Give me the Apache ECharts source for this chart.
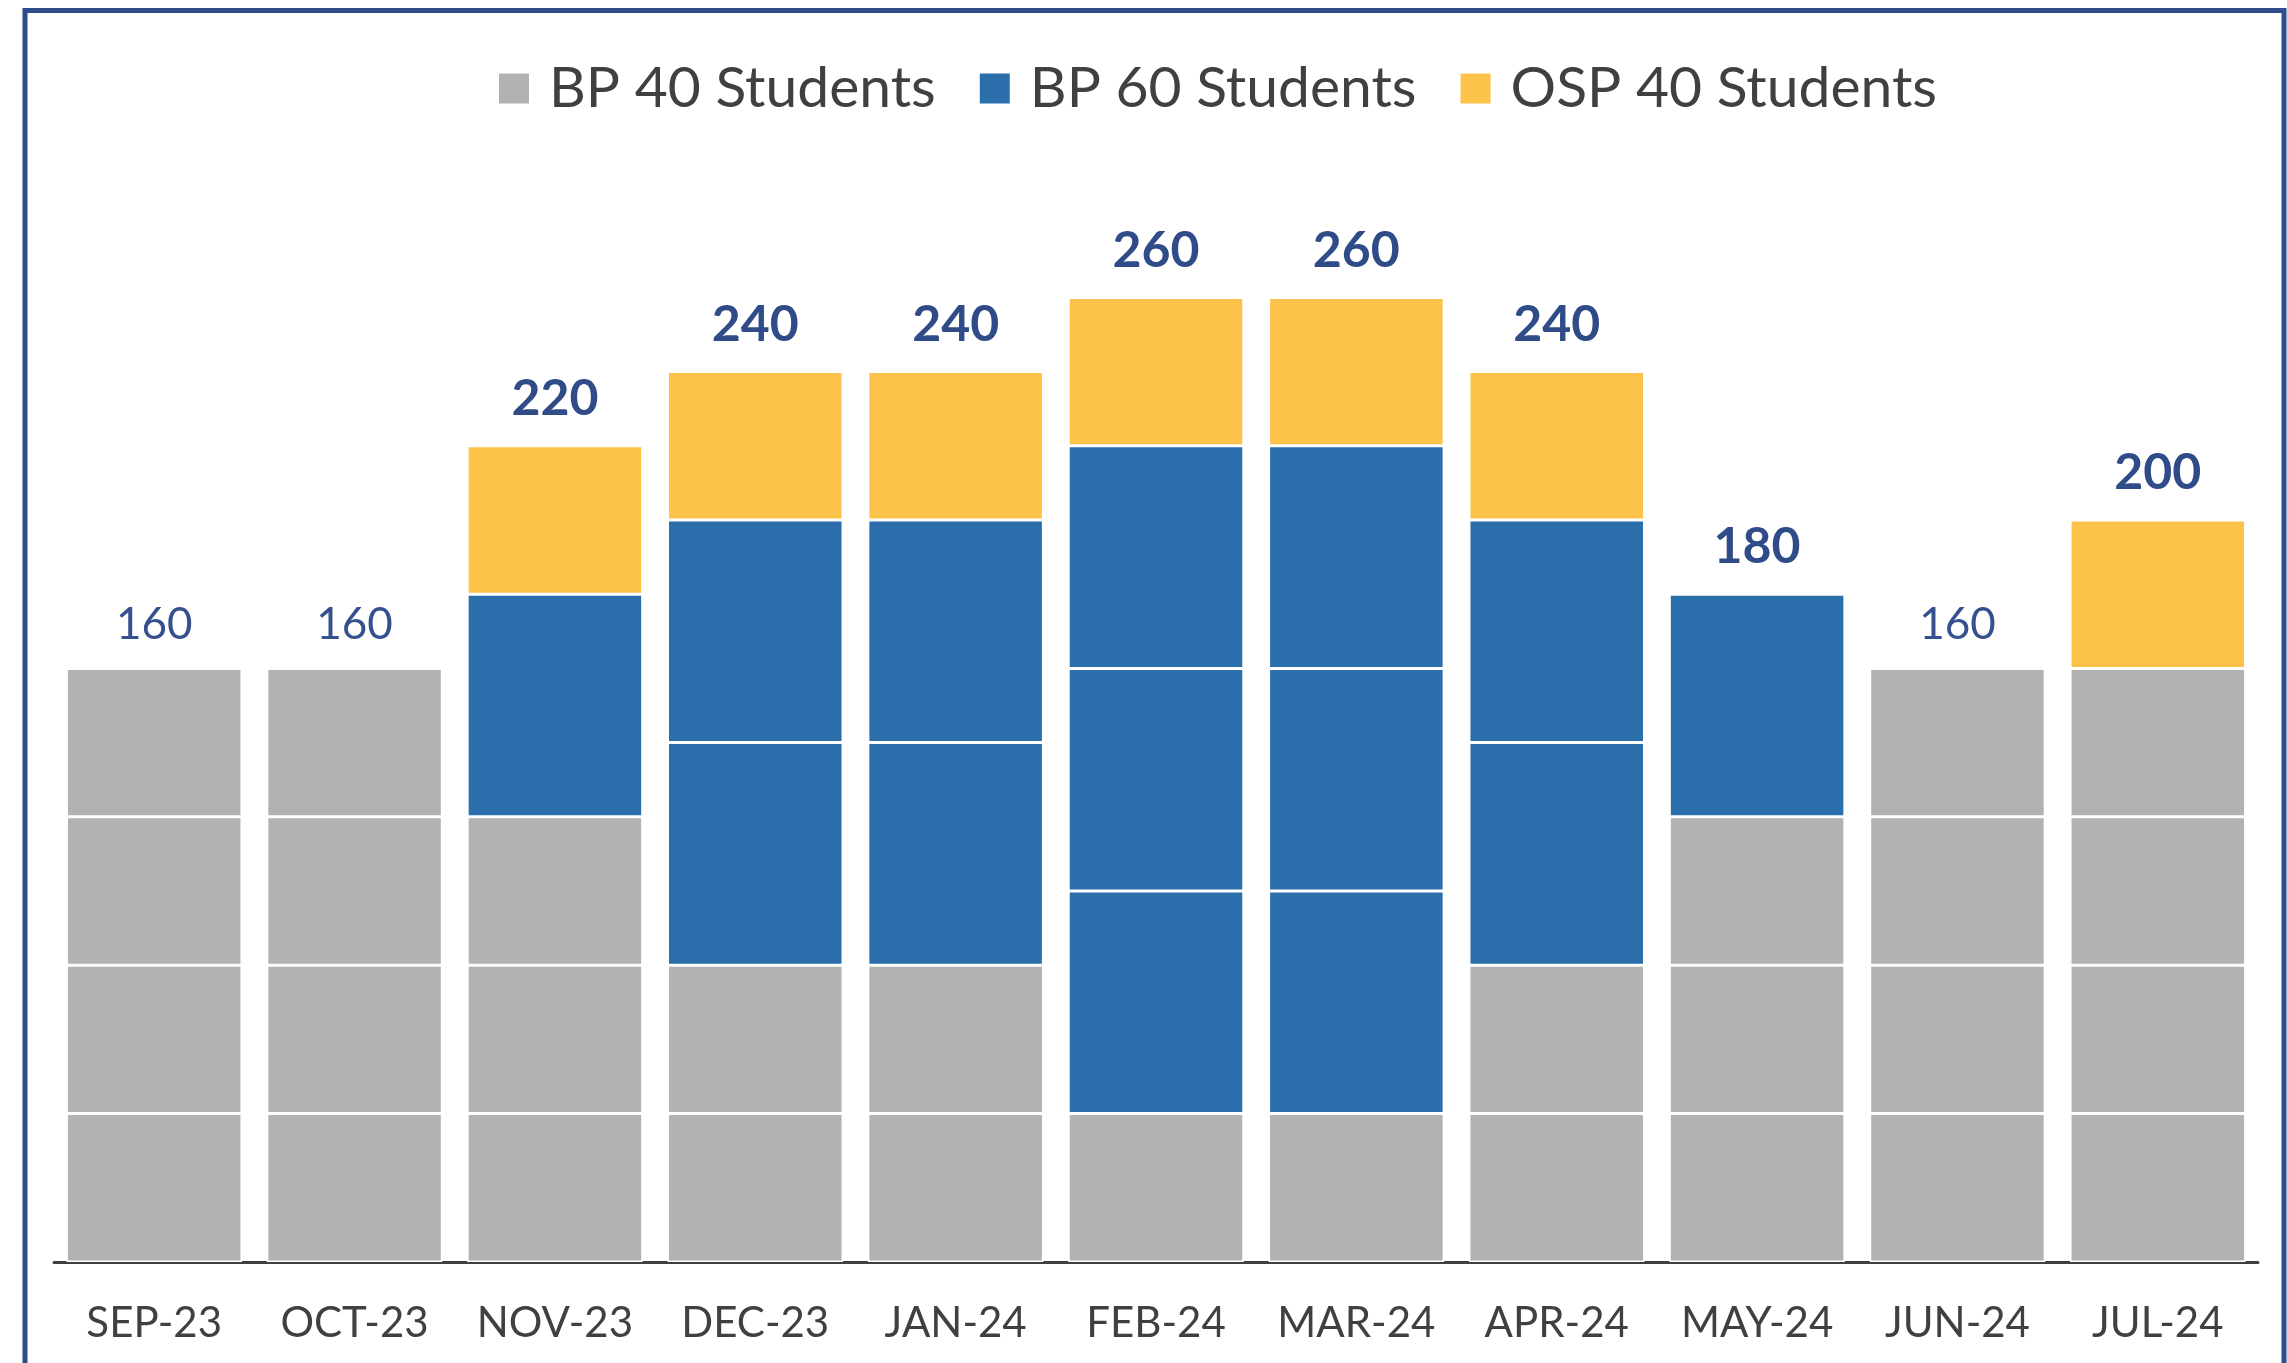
<!DOCTYPE html>
<html>
<head>
<meta charset="utf-8">
<title>Students per month</title>
<script src="https://cdn.jsdelivr.net/npm/echarts@6/dist/echarts.min.js"></script>
<style>
  html, body { margin: 0; padding: 0; background: #fff; }
  #chart { width: 2287px; height: 1363px; }
</style>
</head>
<body>
<div id="chart"></div>
<script>
  // months on the x axis
  const months = ['SEP-23', 'OCT-23', 'NOV-23', 'DEC-23', 'JAN-24', 'FEB-24', 'MAR-24', 'APR-24', 'MAY-24', 'JUN-24', 'JUL-24']
  // students per programme, each month
  const bp40 = [160, 160, 120, 80, 80, 40, 40, 80, 120, 160, 160]
  const bp60 = [0, 0, 60, 120, 120, 180, 180, 120, 60, 0, 0]
  const osp40 = [0, 0, 40, 40, 40, 40, 40, 40, 0, 0, 40]
  // size of one class block of each programme
  const bp40Block = 40
  const bp60Block = 60
  const osp40Block = 40

  const names = ['BP 40 Students', 'BP 60 Students', 'OSP 40 Students']
  const colors = ['#B2B2B2', '#2A6FAB', '#FCC24A']
  const navy = '#2F4B88'
  const font = 'Lato'

  const totals = months.map((m, i) => bp40[i] + bp60[i] + osp40[i])

  // one stacked series per class block so every block gets its own white edge
  const blockSeries = (name, color, values, block) => {
    const maxBlocks = Math.max(...values.map(v => Math.round(v / block)))
    const out = []
    for (let k = 0; k < maxBlocks; k++) {
      out.push({
        name: name,
        type: 'bar',
        stack: 'all',
        barCategoryGap: '12.4%',
        itemStyle: { color: color, borderColor: '#fff', borderWidth: 1.5 },
        emphasis: { disabled: true },
        data: values.map(v => (v >= (k + 1) * block ? block : '-'))
      })
    }
    return out
  }

  let chart = echarts.init(document.getElementById('chart'))
  let option = {
    animation: false,
    color: colors,
    graphic: [{
      type: 'rect',
      shape: { x: 25, y: 10.5, width: 2259, height: 2000 },
      style: { fill: 'none', stroke: '#2F4D8B', lineWidth: 5 },
      silent: true
    }],
    legend: {
      data: names,
      left: 497,
      top: 60,
      padding: 0,
      itemWidth: 32,
      itemHeight: 32,
      itemGap: 42,
      icon: 'rect',
      textStyle: { fontFamily: font, fontSize: 57, color: '#404040', padding: [0, 0, 0, 14] }
    },
    grid: { left: 54, right: 29, top: 149, bottom: 101, containLabel: false },
    xAxis: {
      type: 'category',
      data: months,
      axisTick: { show: false },
      axisLine: { lineStyle: { color: '#404040', width: 3 } },
      axisLabel: { interval: 0, fontFamily: font, fontSize: 42, color: '#404040', margin: 40 }
    },
    yAxis: {
      type: 'value',
      min: 0,
      max: 300,
      show: false,
      splitLine: { show: false }
    },
    series: [
      ...blockSeries(names[0], colors[0], bp40, bp40Block),
      ...blockSeries(names[1], colors[1], bp60, bp60Block),
      ...blockSeries(names[2], colors[2], osp40, osp40Block),
      {
        // totals on top of each stack
        name: 'Total',
        type: 'bar',
        stack: 'all',
        itemStyle: { color: 'transparent', borderWidth: 0 },
        emphasis: { disabled: true },
        data: totals.map(() => 0),
        label: {
          show: true,
          position: 'top',
          distance: 22,
          formatter: p => {
            const i = p.dataIndex
            const plain = bp60[i] === 0 && osp40[i] === 0
            return plain ? '{n|' + totals[i] + '}' : '{b|' + totals[i] + '}'
          },
          rich: {
            n: { fontFamily: font, fontSize: 44, color: '#34508E', fontWeight: 'normal' },
            b: { fontFamily: font, fontSize: 50, color: navy, fontWeight: 'bold' }
          }
        }
      }
    ]
  }
  option && chart.setOption(option)
</script>
</body>
</html>
